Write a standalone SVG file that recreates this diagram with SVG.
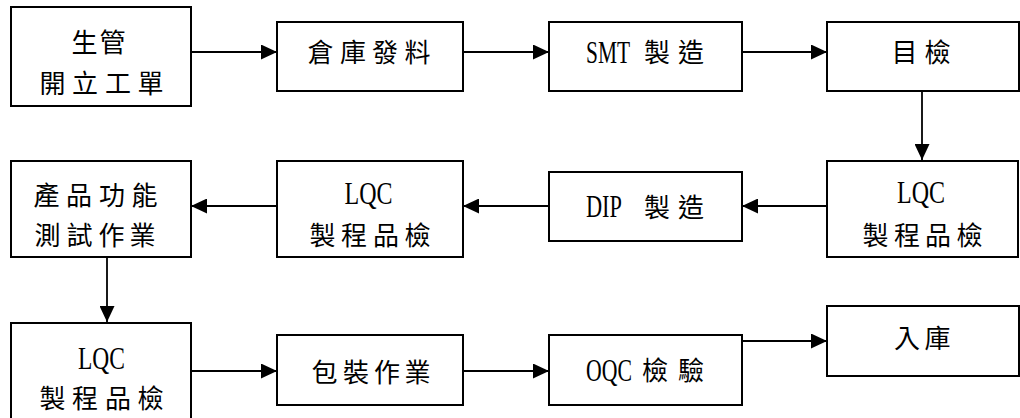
<svg xmlns="http://www.w3.org/2000/svg" width="1020" height="418" viewBox="0 0 1020 418">
<style>
.box{fill:#fff;stroke:#000;stroke-width:2}
.c{font-family:"Noto Sans CJK TC","Noto Sans CJK JP",sans-serif;font-size:26px;fill:#000}
.l{font-family:"Liberation Serif",serif;font-size:32px;fill:#000}
.ln{fill:none;stroke:#000;stroke-width:1.8;marker-end:url(#ah)}
</style>
<defs>
<marker id="ah" markerUnits="userSpaceOnUse" markerWidth="16" markerHeight="15" refX="16" refY="7.5" orient="auto">
<path d="M0,0 L16,7.5 L0,15 z" fill="#000"/>
</marker>
</defs>
<rect width="1020" height="418" fill="#fff"/>
<g id="connectors">
<line class="ln" x1="191" y1="52" x2="277" y2="52"/>
<line class="ln" x1="463" y1="52" x2="549" y2="52"/>
<line class="ln" x1="742" y1="52" x2="827" y2="52"/>
<line class="ln" x1="922" y1="80" x2="922" y2="160"/>
<line class="ln" x1="827" y1="206" x2="742" y2="206"/>
<line class="ln" x1="549" y1="206" x2="463" y2="206"/>
<line class="ln" x1="277" y1="206" x2="191" y2="206"/>
<line class="ln" x1="107" y1="257" x2="107" y2="322"/>
<line class="ln" x1="191" y1="371" x2="277" y2="371"/>
<line class="ln" x1="463" y1="371" x2="549" y2="371"/>
<line class="ln" x1="742" y1="341" x2="827" y2="341"/>
</g>
<g id="n1">
<rect class="box" x="11" y="7" width="180" height="99"/>
<text class="c" x="71.5 99.5" y="52">生管</text>
<text class="c" x="39.5 72 105 137.5" y="93">開立工單</text>
</g>
<g id="n2">
<rect class="box" x="277" y="22" width="186" height="69"/>
<text class="c" x="307.5 340 372 404.5" y="62">倉庫發料</text>
</g>
<g id="n3">
<rect class="box" x="549" y="22" width="193" height="69"/>
<text class="l" transform="matrix(0.669,0,0,1,586,63)">SMT</text>
<text class="c" x="644 678" y="62">製造</text>
</g>
<g id="n4">
<rect class="box" x="827" y="22" width="192" height="69"/>
<text class="c" x="891.5 924.5" y="62">目檢</text>
</g>
<g id="n5">
<rect class="box" x="827" y="161" width="191" height="96"/>
<text class="l" transform="matrix(0.75,0,0,1,897,203)">LQC</text>
<text class="c" x="862.5 894 925 956.5" y="245">製程品檢</text>
</g>
<g id="n6">
<rect class="box" x="549" y="172" width="193" height="69"/>
<text class="l" transform="matrix(0.698,0,0,1,586,217)">DIP</text>
<text class="c" x="644 678" y="216.5">製造</text>
</g>
<g id="n7">
<rect class="box" x="277" y="161" width="186" height="96"/>
<text class="l" transform="matrix(0.75,0,0,1,344.5,204)">LQC</text>
<text class="c" x="309.5 341 373 404.5" y="245">製程品檢</text>
</g>
<g id="n8">
<rect class="box" x="11" y="161" width="180" height="96"/>
<text class="c" x="33.5 66 99 131.5" y="205">產品功能</text>
<text class="c" x="34.5 66.5 98.5 129.5" y="245">測試作業</text>
</g>
<g id="n9">
<rect class="box" x="11" y="323" width="180" height="100"/>
<text class="l" transform="matrix(0.734,0,0,1,78,369)">LQC</text>
<text class="c" x="39.5 72 105 137.5" y="408">製程品檢</text>
</g>
<g id="n10">
<rect class="box" x="277" y="335" width="186" height="70"/>
<text class="c" x="311.5 343 374 404.5" y="382">包裝作業</text>
</g>
<g id="n11">
<rect class="box" x="549" y="335" width="193" height="70"/>
<text class="l" transform="matrix(0.68,0,0,1,586,381)">OQC</text>
<text class="c" x="642 678" y="380">檢驗</text>
</g>
<g id="n12">
<rect class="box" x="827" y="306" width="192" height="70"/>
<text class="c" x="894 924.5" y="348">入庫</text>
</g>
</svg>
